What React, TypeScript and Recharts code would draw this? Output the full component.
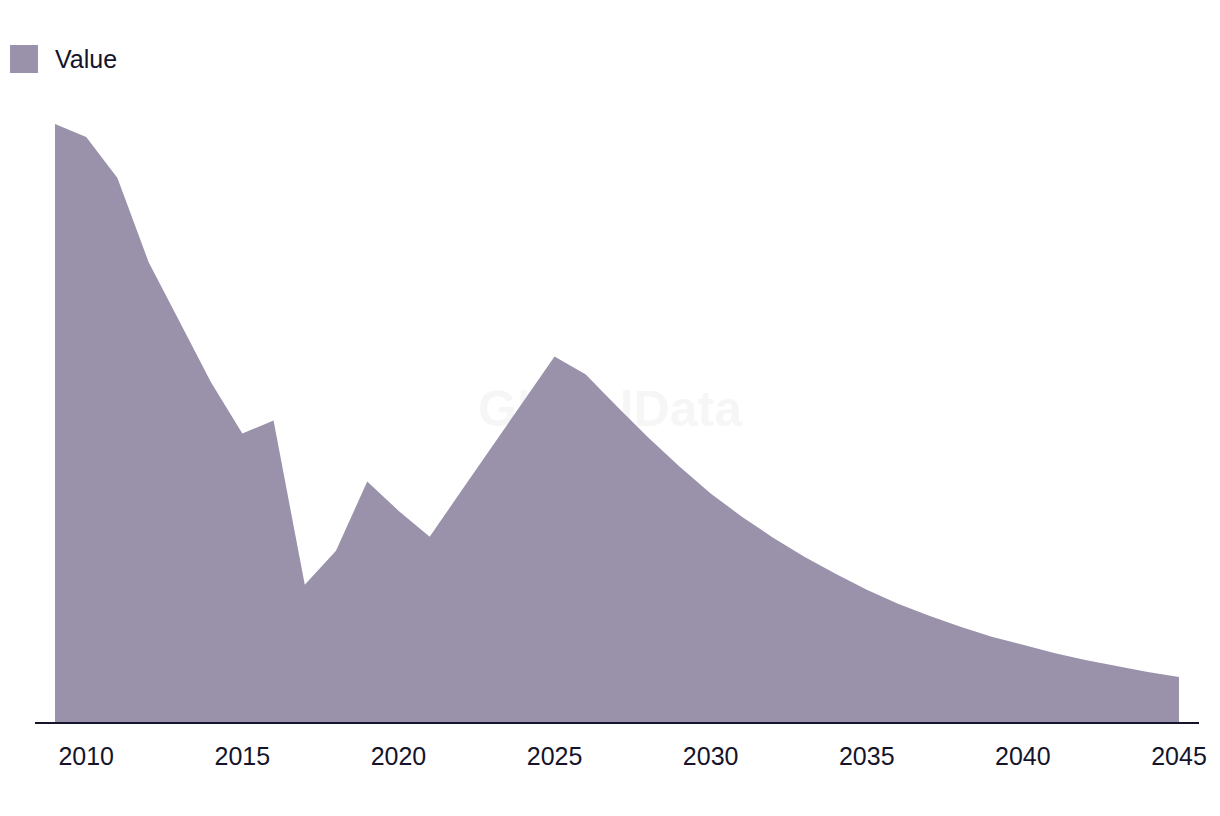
import { AreaChart, Area, XAxis, YAxis, Legend } from "recharts";

const C_FILL = "#9a91aa";
const C_TEXT = "#15142a";

const years = [
  2009, 2010, 2011, 2012, 2013, 2014, 2015, 2016, 2017, 2018, 2019, 2020,
  2021, 2022, 2023, 2024, 2025, 2026, 2027, 2028, 2029, 2030, 2031, 2032,
  2033, 2034, 2035, 2036, 2037, 2038, 2039, 2040, 2041, 2042, 2043, 2044,
  2045,
];

const values = [
  59.8, 58.5, 54.4, 46.0, 40.0, 34.0, 28.9, 30.2, 13.8, 17.2, 24.1, 21.2,
  18.6, 23.1, 27.6, 32.1, 36.6, 34.8, 31.6, 28.5, 25.6, 22.9, 20.6, 18.5,
  16.6, 14.9, 13.3, 11.9, 10.7, 9.6, 8.6, 7.8, 7.0, 6.3, 5.7, 5.1, 4.6,
];

const xTicks = [2010, 2015, 2020, 2025, 2030, 2035, 2040, 2045];

const data = years.map((year, i) => ({ year, Value: values[i] }));

function LegendBox() {
  return (
    <div style={{ display: "flex", alignItems: "center", height: 28 }}>
      <div style={{ width: 28, height: 28, background: C_FILL }} />
      <span
        style={{
          marginLeft: 17,
          fontSize: 25,
          color: C_TEXT,
          fontFamily: "'Liberation Sans', Arial, sans-serif",
        }}
      >
        Value
      </span>
    </div>
  );
}

export default function App() {
  return (
    <div style={{ position: "relative", width: 1204, height: 790 }}>
      <AreaChart
        width={1204}
        height={790}
        data={data}
        margin={{ top: 86, right: 13, left: 27, bottom: 35 }}
      >
        <XAxis
          dataKey="year"
          type="number"
          domain={[2009, 2045]}
          ticks={xTicks}
          padding={{ left: 20, right: 20 }}
          height={40}
          tickSize={0}
          tickMargin={24}
          axisLine={{ stroke: C_TEXT, strokeWidth: 2 }}
          tick={{
            fill: C_TEXT,
            fontSize: 25,
            fontFamily: "'Liberation Sans', Arial, sans-serif",
          }}
        />
        <YAxis hide domain={[0, 60]} />
        <Legend
          verticalAlign="top"
          align="left"
          content={() => <LegendBox />}
          wrapperStyle={{ top: 37, left: 2, width: 200 }}
        />
        <Area
          type="linear"
          dataKey="Value"
          fill={C_FILL}
          fillOpacity={1}
          stroke="none"
          isAnimationActive={false}
        />
        <text
          x={602}
          y={418}
          textAnchor="middle"
          fontSize={50}
          fontWeight={700}
          fontFamily="'Liberation Sans', Arial, sans-serif"
          fill="#e0e0e0"
          fillOpacity={0.3}
        >
          GlobalData
        </text>
      </AreaChart>
    </div>
  );
}
